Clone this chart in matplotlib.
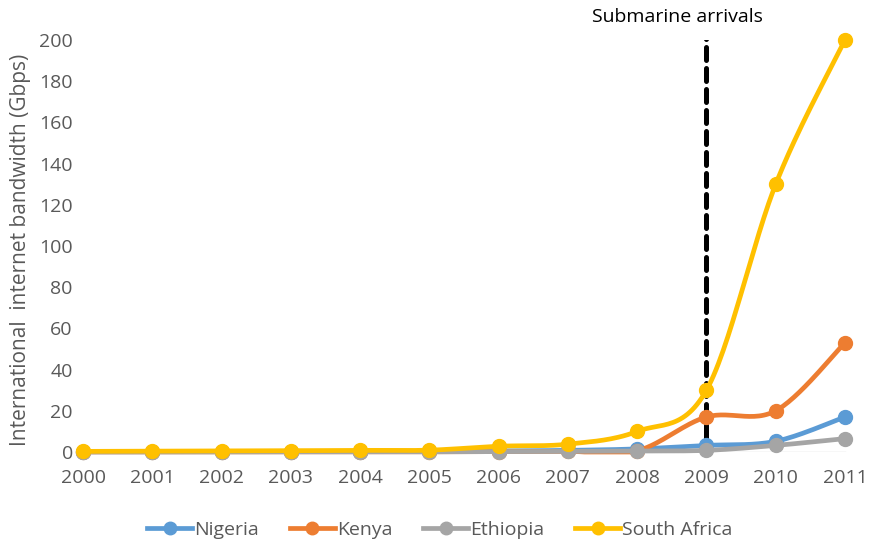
import numpy as np
import matplotlib.pyplot as plt

years = [2000, 2001, 2002, 2003, 2004, 2005, 2006, 2007, 2008, 2009, 2010, 2011]
nigeria = [0.1, 0.1, 0.1, 0.2, 0.2, 0.3, 0.5, 0.8, 1.5, 3.2, 5.2, 17]
kenya = [0.05, 0.05, 0.05, 0.1, 0.1, 0.1, 0.2, 0.3, 0.6, 17, 20, 53]
ethiopia = [0.05, 0.05, 0.05, 0.05, 0.1, 0.1, 0.2, 0.3, 0.5, 0.8, 3.2, 6.5]
south_africa = [0.3, 0.4, 0.5, 0.6, 0.8, 0.9, 2.8, 3.8, 10, 30, 130, 200]

series = [("Nigeria", nigeria, "#5B9BD5"),
          ("Kenya", kenya, "#ED7D31"),
          ("Ethiopia", ethiopia, "#A5A5A5"),
          ("South Africa", south_africa, "#FFC000")]

arrival_year = 2009
y_ticks = list(range(0, 201, 20))

plt.rcParams['font.family'] = ['Open Sans', 'DejaVu Sans']


def smooth(x, y, n=30):
    # catmull-rom style bezier segments, like a spreadsheet "smoothed line"
    x = np.asarray(x, float)
    y = np.asarray(y, float)
    px, py = [], []
    t = np.linspace(0, 1, n)
    for i in range(len(x) - 1):
        i0 = max(i - 1, 0)
        i3 = min(i + 2, len(x) - 1)
        c1x = x[i] + (x[i + 1] - x[i0]) / 6
        c1y = y[i] + (y[i + 1] - y[i0]) / 6
        c2x = x[i + 1] - (x[i3] - x[i]) / 6
        c2y = y[i + 1] - (y[i3] - y[i]) / 6
        b0 = (1 - t) ** 3
        b1 = 3 * (1 - t) ** 2 * t
        b2 = 3 * (1 - t) * t ** 2
        b3 = t ** 3
        px.extend(b0 * x[i] + b1 * c1x + b2 * c2x + b3 * x[i + 1])
        py.extend(b0 * y[i] + b1 * c1y + b2 * c2y + b3 * y[i + 1])
    # keep the overshoot from dipping under the baseline
    return np.array(px), np.maximum(np.array(py), 0)


fig = plt.figure(figsize=(8.71, 5.42), dpi=100)
ax = fig.add_axes([70 / 871, 90 / 542, 788 / 871, 412 / 542])

ax.plot([arrival_year, arrival_year], [7, 201], color="black", lw=3.6,
        linestyle=(0, (2.6, 1.6)), dash_capstyle="round", zorder=2)
ax.text(arrival_year - 0.42, 211, "Submarine arrivals", ha="center",
        va="center", fontsize=14, color="black")

ax.plot([years[0], years[-1]], [0, 0], color="#D9D9D9", lw=1, zorder=1)

for name, vals, col in series:
    sx, sy = smooth(years, vals)
    ax.plot(sx, sy, color=col, lw=3.4, solid_capstyle="round", zorder=3,
            clip_on=False)
    ax.plot(years, vals, "o", color=col, ms=10, zorder=3, clip_on=False)
    ax.plot([], [], "-o", color=col, lw=3.4, ms=9, label=name)

ax.set_xlim(2000 - 0.188, 2011 + 0.188)
ax.set_ylim(0, 200)
ax.set_xticks(years)
ax.set_yticks(y_ticks)
ax.tick_params(length=0, labelsize=14, colors="#595959")
ax.tick_params(axis="x", pad=12)
ax.tick_params(axis="y", pad=-2)
for s in ax.spines.values():
    s.set_visible(False)
ax.set_ylabel("International  internet bandwidth (Gbps)", fontsize=15,
              color="#595959")
ax.yaxis.set_label_coords(-0.05, 0.49)

fig.legend(loc="lower center", bbox_to_anchor=(0.505, -0.027), ncol=4,
           frameon=False, fontsize=14, labelcolor="#595959",
           handlelength=2.3, columnspacing=1.6, handletextpad=0.1)

fig.savefig("out.png", dpi=100)
